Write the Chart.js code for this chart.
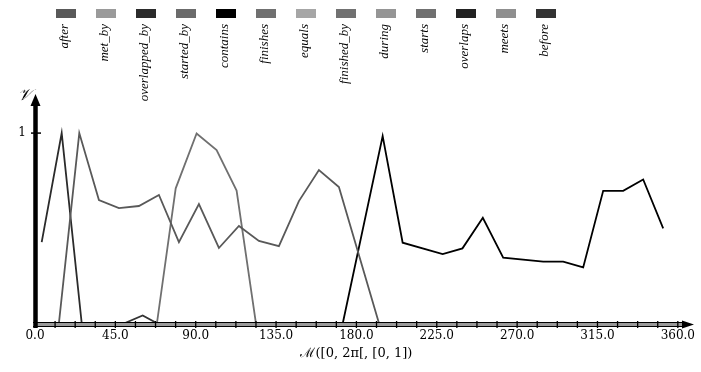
<!DOCTYPE html>
<html>
<head>
<meta charset="utf-8">
<script src="https://cdn.jsdelivr.net/npm/chart.js@4"></script>
<style>
  html, body { margin: 0; padding: 0; background: #fff; }
</style>
</head>
<body>
<canvas id="chart" width="701" height="372"></canvas>
<script>
// legend entries, in legend order
const relations = ['after', 'met_by', 'overlapped_by', 'started_by', 'contains', 'finishes',
    'equals', 'finished_by', 'during', 'starts', 'overlaps', 'meets', 'before'];
const relationColors = ['#595959', '#9a9a9a', '#2b2b2b', '#6b6b6b', '#000000', '#707070',
    '#a6a6a6', '#717171', '#959595', '#707070', '#222222', '#8f8f8f', '#333333'];

// axis ticks
const xTickValues = [0, 45, 90, 135, 180, 225, 270, 315, 360];
const xTickLabels = ['0.0', '45.0', '90.0', '135.0', '180.0', '225.0', '270.0', '315.0', '360.0'];
const yTickValues = [1];
const yTickLabels = ['1'];

// series: angle in degrees, value in [0, 1]
const overlappedByAngles = [3.75, 14.95, 26.15, 360];
const overlappedByValues = [0.426, 1.0, 0, 0];

const afterAngles = [0, 13.4, 24.8, 35.8, 47.0, 58.2, 69.4, 80.6, 91.8, 103.0, 114.2, 125.4,
    136.6, 147.8, 159.0, 170.2, 192.6, 360];
const afterValues = [0, 0, 1.0, 0.647, 0.605, 0.616, 0.674, 0.426, 0.626, 0.395, 0.511, 0.432,
    0.405, 0.642, 0.805, 0.716, 0, 0];

const finishesAngles = [0, 68.3, 78.8, 90.5, 101.7, 112.9, 123.7, 360];
const finishesValues = [0, 0, 0.709, 0.998, 0.91, 0.697, 0, 0];

const beforeAngles = [0, 50.4, 60.3, 68.1, 360];
const beforeValues = [0, 0, 0.04, 0, 0];

const containsAngles = [0, 172.4, 194.7, 205.9, 228.3, 239.4, 250.8, 262.2, 284.6, 295.8,
    307.0, 318.2, 329.4, 340.6, 351.8];
const containsValues = [0, 0, 0.984, 0.423, 0.363, 0.393, 0.554, 0.344, 0.323, 0.323,
    0.293, 0.696, 0.696, 0.756, 0.498];

// relations that stay at zero over the whole range
const zeroAngles = [0, 360];
const zeroValues = [0, 0];

const seriesByRelation = {
    after: [afterAngles, afterValues],
    overlapped_by: [overlappedByAngles, overlappedByValues],
    finishes: [finishesAngles, finishesValues],
    before: [beforeAngles, beforeValues],
    contains: [containsAngles, containsValues]
};

const datasets = relations.map((name, i) => {
    const [angles, values] = seriesByRelation[name] || [zeroAngles, zeroValues];
    return {
        label: name,
        data: angles.map((a, j) => ({x: a, y: values[j]})),
        borderColor: relationColors[i],
        backgroundColor: relationColors[i],
        borderWidth: 1.8,
        pointRadius: 0,
        tension: 0,
        fill: false
    };
});

const serif = '"DejaVu Serif", "Liberation Serif", serif';

// axes with arrows, crossing tick marks, rotated legend
const decorations = {
    id: 'decorations',
    afterDraw(chart) {
        const ctx = chart.ctx;
        const xs = chart.scales.x, ys = chart.scales.y;
        const y0 = ys.getPixelForValue(0);
        const x0 = xs.getPixelForValue(0);
        ctx.save();

        // x axis
        ctx.fillStyle = '#9a9a9a';
        ctx.fillRect(x0, y0, 650, 3);
        ctx.strokeStyle = '#000';
        ctx.lineWidth = 1.2;
        ctx.beginPath();
        ctx.moveTo(x0 - 2, y0 - 0.5); ctx.lineTo(686, y0 - 0.5);
        ctx.moveTo(x0 - 2, y0 + 3.5); ctx.lineTo(686, y0 + 3.5);
        ctx.stroke();
        ctx.fillStyle = '#000';
        ctx.beginPath();
        ctx.moveTo(694, y0 + 1.5); ctx.lineTo(682, y0 - 2.5); ctx.lineTo(682, y0 + 5.5);
        ctx.closePath(); ctx.fill();
        ctx.lineWidth = 1.3;
        xs.ticks.forEach(t => {
            const px = xs.getPixelForValue(t.value);
            ctx.beginPath(); ctx.moveTo(px, y0 - 2); ctx.lineTo(px, y0 + 5); ctx.stroke();
        });

        // y axis
        ctx.lineWidth = 4.5;
        ctx.beginPath(); ctx.moveTo(x0 + 0.5, y0 + 5); ctx.lineTo(x0 + 0.5, 104); ctx.stroke();
        ctx.beginPath();
        ctx.moveTo(x0 + 0.5, 94); ctx.lineTo(x0 - 4.5, 106); ctx.lineTo(x0 + 5.5, 106);
        ctx.closePath(); ctx.fill();
        ctx.lineWidth = 1.5;
        ys.ticks.forEach(t => {
            const py = ys.getPixelForValue(t.value);
            ctx.beginPath(); ctx.moveTo(x0 - 4, py); ctx.lineTo(x0 + 6, py); ctx.stroke();
        });
        ctx.font = 'italic 16px ' + serif;
        ctx.textAlign = 'center';
        ctx.textBaseline = 'middle';
        ctx.fillText('\u{1D4B1}', 24, 96);

        // legend
        chart.data.datasets.forEach((ds, i) => {
            const cx = 66 + i * 40;
            ctx.fillStyle = ds.borderColor;
            ctx.fillRect(cx - 10, 9, 20, 9);
            ctx.save();
            ctx.translate(cx - 1, 24);
            ctx.rotate(-Math.PI / 2);
            ctx.fillStyle = '#000';
            ctx.font = 'italic 13px "Liberation Serif", serif';
            ctx.textAlign = 'right';
            ctx.textBaseline = 'middle';
            ctx.fillText(ds.label, 0, 0);
            ctx.restore();
        });
        ctx.restore();
    }
};

new Chart(document.getElementById('chart'), {
    type: 'line',
    data: {datasets: datasets},
    options: {
        responsive: false,
        animation: false,
        devicePixelRatio: 1,
        layout: {padding: {top: 97, right: 23, left: 0, bottom: 0}},
        plugins: {legend: {display: false}, tooltip: {enabled: false}},
        scales: {
            x: {
                type: 'linear',
                min: 0,
                max: 360,
                afterBuildTicks: scale => {
                    const ticks = [];
                    for (let k = 0; k <= 32; k++) ticks.push({value: k * 11.25});
                    scale.ticks = ticks;
                },
                afterFit: scale => { scale.height = 49; },
                grid: {display: false, drawTicks: false},
                border: {display: false},
                ticks: {
                    autoSkip: false,
                    maxRotation: 0,
                    padding: 6,
                    color: '#000',
                    font: {family: serif, size: 12},
                    callback: v => {
                        const i = xTickValues.indexOf(v);
                        return i >= 0 ? xTickLabels[i] : '';
                    }
                },
                title: {
                    display: true,
                    text: '\u2133([0, 2\u03C0[, [0, 1])',
                    color: '#000',
                    font: {family: serif, size: 13},
                    padding: {top: 0, bottom: 11}
                }
            },
            y: {
                min: 0,
                max: 1.19,
                afterBuildTicks: scale => {
                    scale.ticks = yTickValues.map(v => ({value: v}));
                },
                afterFit: scale => { scale.width = 35; },
                grid: {display: false, drawTicks: false},
                border: {display: false},
                ticks: {
                    padding: 9,
                    color: '#000',
                    font: {family: serif, size: 12},
                    callback: v => {
                        const i = yTickValues.indexOf(v);
                        return i >= 0 ? yTickLabels[i] : '';
                    }
                }
            }
        }
    },
    plugins: [decorations]
});
</script>
</body>
</html>
